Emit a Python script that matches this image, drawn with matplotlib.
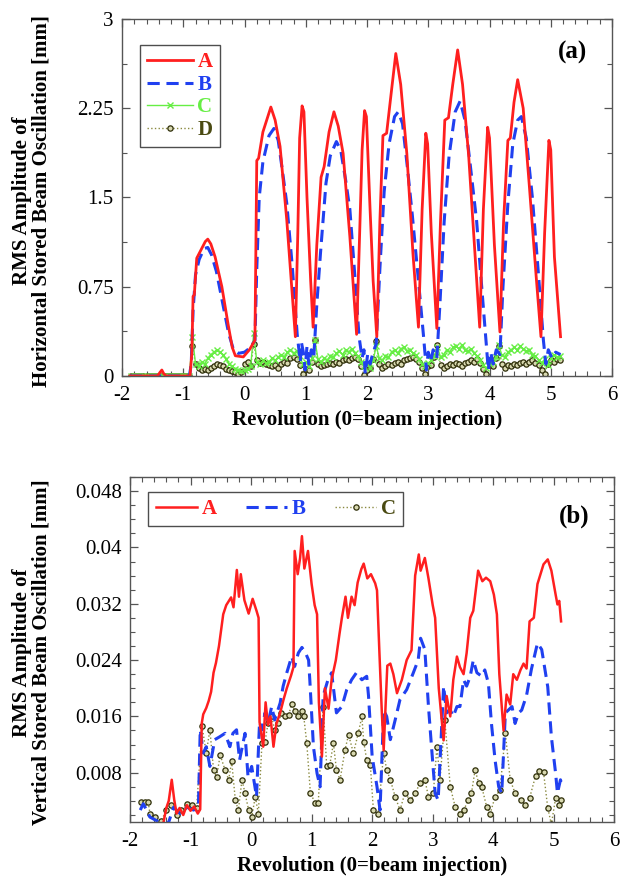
import numpy as np
import matplotlib
matplotlib.use("Agg")
import matplotlib.pyplot as plt
from matplotlib.ticker import MultipleLocator

plt.rcParams['font.family'] = ['Liberation Serif', 'DejaVu Serif']
plt.rcParams['axes.unicode_minus'] = False

# ---------------- horizontal (a) ----------------
ha_x = [-1.87, -1.42, -1.38, -1.35, -1.32, -1.28, -0.89, -0.86, -0.84, -0.82,
        -0.78, -0.72, -0.64, -0.60, -0.55, -0.48, -0.37, -0.27, -0.20, -0.15,
        -0.02, 0.08, 0.17, 0.20, 0.23, 0.30, 0.43, 0.50, 0.58, 0.69,
        0.77, 0.83, 0.87, 0.90, 0.94, 0.97, 1.02, 1.08, 1.12, 1.18,
        1.25, 1.30, 1.38, 1.46, 1.53, 1.61, 1.72, 1.83, 1.88, 1.92,
        1.96, 1.99, 2.05, 2.10, 2.16, 2.21, 2.26, 2.32, 2.40, 2.47,
        2.55, 2.65, 2.75, 2.84, 2.90, 2.96, 2.99, 3.05, 3.14, 3.20,
        3.27, 3.33, 3.40, 3.48, 3.56, 3.66, 3.76, 3.84, 3.90, 3.97,
        4.00, 4.08, 4.17, 4.23, 4.30, 4.34, 4.40, 4.46, 4.55, 4.65,
        4.76, 4.84, 4.90, 4.97, 5.00, 5.06, 5.16]
ha_y = [0.0, 0.0, 0.03, 0.05, 0.02, 0.0, 0.0, 0.19, 0.67, 0.68,
        0.99, 1.05, 1.13, 1.15, 1.11, 1.00, 0.75, 0.44, 0.24, 0.17,
        0.16, 0.22, 0.30, 1.81, 1.83, 2.05, 2.26, 2.15, 1.93, 1.31,
        0.75, 0.33, 1.20, 2.00, 2.27, 2.22, 1.50, 0.80, 0.41, 1.10,
        1.67, 1.76, 2.05, 2.22, 2.10, 1.87, 1.17, 0.35, 1.20, 1.90,
        2.23, 2.18, 1.40, 0.80, 0.33, 1.30, 2.02, 2.04, 2.40, 2.71,
        2.45, 1.87, 1.03, 0.41, 1.40, 2.04, 1.95, 1.20, 0.40, 1.30,
        2.15, 2.17, 2.45, 2.74, 2.45, 1.85, 1.05, 0.41, 1.40, 2.09,
        2.00, 1.10, 0.37, 1.30, 1.98, 2.00, 2.30, 2.49, 2.25, 1.60,
        0.85, 0.33, 1.20, 1.98, 1.90, 1.00, 0.33]

hb_x = [-1.87, -0.90, -0.87, -0.84, -0.80, -0.74, -0.66, -0.60, -0.54, -0.46,
        -0.36, -0.26, -0.18, -0.10, 0.00, 0.10, 0.17, 0.20, 0.24, 0.30,
        0.40, 0.48, 0.55, 0.62, 0.69, 0.78, 0.86, 0.91, 0.93, 0.96,
        0.99, 1.02, 1.05, 1.09, 1.13, 1.18, 1.24, 1.33, 1.40, 1.50,
        1.57, 1.65, 1.72, 1.80, 1.87, 1.92, 1.95, 1.97, 2.01, 2.05,
        2.10, 2.15, 2.21, 2.28, 2.36, 2.45, 2.51, 2.58, 2.66, 2.74,
        2.84, 2.92, 2.97, 3.00, 3.04, 3.08, 3.14, 3.19, 3.26, 3.34,
        3.44, 3.52, 3.60, 3.68, 3.79, 3.88, 3.95, 3.98, 4.02, 4.06,
        4.11, 4.17, 4.22, 4.30, 4.38, 4.46, 4.52, 4.60, 4.70, 4.80,
        4.88, 4.92, 4.96, 5.02, 5.08, 5.16]
hb_y = [0.0, 0.0, 0.10, 0.55, 0.85, 0.98, 1.07, 1.08, 1.02, 0.88,
        0.62, 0.36, 0.22, 0.19, 0.20, 0.24, 0.30, 0.90, 1.50, 1.80,
        2.02, 2.08, 1.98, 1.72, 1.45, 0.92, 0.35, 0.12, 0.28, 0.20,
        0.05, 0.25, 0.10, 0.22, 0.15, 0.60, 1.03, 1.62, 1.85, 1.97,
        1.90, 1.65, 1.40, 0.85, 0.33, 0.15, 0.22, 0.02, 0.18, 0.10,
        0.20, 0.27, 0.90, 1.55, 1.95, 2.18, 2.22, 2.12, 1.75, 1.35,
        0.80, 0.35, 0.05, 0.20, 0.12, 0.22, 0.15, 0.60, 1.30, 1.85,
        2.22, 2.31, 2.15, 1.80, 1.30, 0.70, 0.25, 0.05, 0.20, 0.10,
        0.22, 0.18, 0.75, 1.45, 1.95, 2.15, 2.18, 2.00, 1.50, 0.85,
        0.30, 0.10, 0.22, 0.15, 0.20, 0.18]

# C and D sampled every 0.05 rev starting at -1.85
hc_y = [0.0] * 20 + [
    0.33, 0.10, 0.08, 0.12, 0.10, 0.15, 0.18, 0.20, 0.22, 0.20,
    0.18, 0.14, 0.10, 0.08, 0.06, 0.05, 0.04, 0.05,
    0.06, 0.08, 0.36, 0.12, 0.10, 0.13, 0.11, 0.12, 0.15, 0.13,
    0.16, 0.18, 0.16, 0.20, 0.22, 0.19, 0.21, 0.17, 0.10, 0.12,
    0.08, 0.15, 0.30, 0.14, 0.12, 0.15, 0.13, 0.17, 0.16, 0.19,
    0.21, 0.18, 0.22, 0.20, 0.23, 0.19, 0.17, 0.12, 0.08, 0.10,
    0.07, 0.13, 0.25, 0.15, 0.13, 0.17, 0.16, 0.20, 0.22, 0.19,
    0.23, 0.24, 0.21, 0.22, 0.19, 0.18, 0.14, 0.10, 0.08, 0.11,
    0.13, 0.17, 0.24, 0.16, 0.18, 0.22, 0.20, 0.24, 0.25, 0.23,
    0.26, 0.22, 0.21, 0.23, 0.19, 0.17, 0.13, 0.09, 0.07, 0.10,
    0.12, 0.16, 0.26, 0.18, 0.16, 0.20, 0.22, 0.24, 0.22, 0.25,
    0.23, 0.21, 0.22, 0.18, 0.17, 0.13, 0.11, 0.14, 0.09, 0.15,
    0.18, 0.16, 0.17]
hd_y = [0.0] * 20 + [
    0.25, 0.10, 0.07, 0.05, 0.06, 0.05, 0.07, 0.08, 0.10, 0.09,
    0.08, 0.06, 0.05, 0.04, 0.03, 0.02, 0.03, 0.10,
    0.12, 0.08, 0.27, 0.13, 0.11, 0.12, 0.10, 0.09, 0.08, 0.09,
    0.07, 0.10, 0.12, 0.11, 0.15, 0.16, 0.14, 0.09, 0.02, 0.06,
    0.05, 0.12, 0.30, 0.10, 0.08, 0.09, 0.10, 0.11, 0.10, 0.12,
    0.11, 0.13, 0.14, 0.13, 0.15, 0.16, 0.14, 0.08, 0.01, 0.05,
    0.07, 0.14, 0.29, 0.10, 0.07, 0.08, 0.10, 0.09, 0.11, 0.12,
    0.10, 0.13, 0.14, 0.15, 0.16, 0.14, 0.12, 0.07, 0.02, 0.08,
    0.09, 0.16, 0.26, 0.09, 0.07, 0.08, 0.10, 0.09, 0.11, 0.10,
    0.08, 0.11, 0.12, 0.13, 0.12, 0.14, 0.11, 0.06, 0.02, 0.09,
    0.08, 0.15, 0.25, 0.10, 0.07, 0.09, 0.08, 0.10, 0.09, 0.11,
    0.12, 0.10, 0.12, 0.13, 0.11, 0.09, 0.05, 0.02, 0.10, 0.13,
    0.12, 0.14, 0.13]
hc_x = np.round(-1.85 + 0.05 * np.arange(len(hc_y)), 2)
hd_x = np.round(-1.85 + 0.05 * np.arange(len(hd_y)), 2)

# ---------------- vertical (b) ----------------
va_x = [-1.45, -1.40, -1.36, -1.31, -1.27, -1.23, -1.18, -1.12, -1.06, -1.00,
        -0.94, -0.88, -0.84, -0.815, -0.79, -0.74, -0.70, -0.66, -0.62, -0.58,
        -0.53, -0.46, -0.41, -0.33, -0.29, -0.235, -0.20, -0.17, -0.11, -0.04,
        0.026, 0.09, 0.124, 0.14, 0.20, 0.24, 0.28, 0.32, 0.37, 0.42,
        0.48, 0.54, 0.59, 0.66, 0.70, 0.72, 0.77, 0.81, 0.84, 0.88,
        0.94, 1.00, 1.05, 1.09, 1.12, 1.17, 1.22, 1.28, 1.33, 1.40,
        1.46, 1.50, 1.56, 1.60, 1.66, 1.71, 1.76, 1.82, 1.86, 1.92,
        1.98, 2.05, 2.08, 2.12, 2.16, 2.19, 2.25, 2.30, 2.35, 2.41,
        2.49, 2.57, 2.65, 2.71, 2.77, 2.80, 2.87, 2.93, 3.00, 3.04,
        3.10, 3.18, 3.23, 3.29, 3.34, 3.40, 3.45, 3.51, 3.56, 3.62,
        3.67, 3.75, 3.82, 3.88, 3.95, 4.01, 4.06, 4.10, 4.17, 4.22,
        4.28, 4.33, 4.39, 4.45, 4.50, 4.55, 4.60, 4.67, 4.73, 4.83,
        4.90, 4.96, 5.03, 5.06, 5.09, 5.12]
va_y = [0.0008, 0.0030, 0.0040, 0.0070, 0.0042, 0.0022, 0.0030, 0.0020, 0.0034, 0.0026,
        0.0032, 0.0022, 0.0028, 0.0150, 0.0163, 0.0172, 0.0182, 0.0195, 0.0222, 0.0236,
        0.0260, 0.0305, 0.0318, 0.0329, 0.0315, 0.0368, 0.0330, 0.0362, 0.0325, 0.0306,
        0.0327, 0.0310, 0.0300, 0.0152, 0.0117, 0.0180, 0.0148, 0.0160, 0.0117, 0.0150,
        0.0165, 0.0185, 0.0200, 0.0218, 0.0230, 0.0395, 0.0362, 0.0385, 0.0416, 0.0370,
        0.0395, 0.0348, 0.0318, 0.0305, 0.0180, 0.0103, 0.0200, 0.0171, 0.0212, 0.0240,
        0.0277, 0.0300, 0.0330, 0.0300, 0.0330, 0.0318, 0.0350, 0.0369, 0.0377, 0.0356,
        0.0362, 0.0349, 0.0339, 0.0250, 0.0165, 0.0112, 0.0232, 0.0235, 0.0220, 0.0193,
        0.0212, 0.0240, 0.0254, 0.0360, 0.0390, 0.0367, 0.0385, 0.0356, 0.0318, 0.0300,
        0.0200, 0.0126, 0.0189, 0.0160, 0.0212, 0.0245, 0.0230, 0.0220, 0.0250, 0.0300,
        0.0310, 0.0367, 0.0352, 0.0357, 0.0352, 0.0333, 0.0305, 0.0220, 0.0140, 0.0191,
        0.0177, 0.0220, 0.0212, 0.0226, 0.0235, 0.0228, 0.0295, 0.0300, 0.0348, 0.0376,
        0.0383, 0.0367, 0.0333, 0.0319, 0.0324, 0.0295]

vb_x = [-1.83, -1.78, -1.67, -1.56, -1.45, -1.36, -1.28, -1.17, -1.06, -0.95,
        -0.87, -0.84, -0.79, -0.74, -0.68, -0.60, -0.52, -0.43, -0.35, -0.30,
        -0.24, -0.19, -0.10, -0.05, 0.01, 0.09, 0.14, 0.18, 0.23, 0.28,
        0.34, 0.39, 0.48, 0.53, 0.59, 0.67, 0.72, 0.78, 0.84, 0.90,
        0.95, 0.97, 1.03, 1.09, 1.14, 1.19, 1.27, 1.33, 1.41, 1.50,
        1.58, 1.66, 1.74, 1.83, 1.91, 1.94, 2.00, 2.08, 2.13, 2.19,
        2.24, 2.30, 2.38, 2.46, 2.57, 2.68, 2.76, 2.80, 2.87, 2.93,
        2.98, 3.04, 3.09, 3.18, 3.23, 3.29, 3.34, 3.40, 3.45, 3.51,
        3.56, 3.62, 3.67, 3.73, 3.81, 3.86, 3.92, 3.97, 4.03, 4.09,
        4.14, 4.20, 4.25, 4.31, 4.36, 4.42, 4.47, 4.55, 4.63, 4.73,
        4.80, 4.90, 4.96, 5.03, 5.06, 5.11, 5.14]
vb_y = [0.0027, 0.0036, 0.0017, 0.0012, 0.0005, 0.0010, 0.0031, 0.0022, 0.0031, 0.0027,
        0.0031, 0.0141, 0.0108, 0.0117, 0.0089, 0.0127, 0.0131, 0.0136, 0.0117, 0.0136,
        0.0141, 0.0098, 0.0136, 0.0074, 0.0089, 0.0046, 0.0152, 0.0141, 0.0165, 0.0150,
        0.0174, 0.0155, 0.0179, 0.0203, 0.0222, 0.0245, 0.0231, 0.0250, 0.0258, 0.0250,
        0.0240, 0.0212, 0.0117, 0.0079, 0.0060, 0.0189, 0.0212, 0.0222, 0.0165, 0.0174,
        0.0198, 0.0212, 0.0222, 0.0212, 0.0217, 0.0189, 0.0103, 0.0060, 0.0027, 0.0169,
        0.0160, 0.0127, 0.0155, 0.0184, 0.0198, 0.0222, 0.0240, 0.0271, 0.0255, 0.0174,
        0.0117, 0.0051, 0.0041, 0.0203, 0.0165, 0.0169, 0.0160, 0.0174, 0.0174, 0.0212,
        0.0203, 0.0217, 0.0240, 0.0222, 0.0217, 0.0226, 0.0207, 0.0150, 0.0098, 0.0060,
        0.0051, 0.0165, 0.0169, 0.0174, 0.0150, 0.0165, 0.0169, 0.0190, 0.0227, 0.0264,
        0.0255, 0.0202, 0.0131, 0.0079, 0.0051, 0.0070, 0.0061]

vc_x = [-1.81, -1.76, -1.70, -1.67, -1.59, -1.48, -1.40, -1.32, -1.23, -1.15,
        -1.06, -0.98, -0.90, -0.81, -0.74, -0.68, -0.62, -0.57, -0.51, -0.43,
        -0.37, -0.32, -0.26, -0.21, -0.15, -0.10, -0.04, 0.01, 0.07, 0.12,
        0.18, 0.23, 0.28, 0.34, 0.39, 0.45, 0.50, 0.56, 0.62, 0.67,
        0.73, 0.78, 0.84, 0.87, 0.92, 0.98, 1.06, 1.11, 1.19, 1.25,
        1.30, 1.36, 1.41, 1.47, 1.55, 1.61, 1.69, 1.77, 1.83, 1.86,
        1.91, 1.97, 2.02, 2.10, 2.19, 2.24, 2.30, 2.38, 2.46, 2.54,
        2.63, 2.71, 2.79, 2.87, 2.93, 3.01, 3.07, 3.12, 3.20, 3.29,
        3.37, 3.45, 3.51, 3.59, 3.64, 3.70, 3.76, 3.81, 3.89, 3.95,
        4.03, 4.11, 4.20, 4.28, 4.36, 4.45, 4.53, 4.60, 4.70, 4.76,
        4.83, 4.90, 4.96, 5.03, 5.09, 5.12]
vc_y = [0.0039, 0.0039, 0.0039, 0.0022, 0.0017, 0.0012, 0.0027, 0.0034, 0.0020, 0.0027,
        0.0036, 0.0034, 0.0030, 0.0146, 0.0108, 0.0141, 0.0084, 0.0074, 0.0105, 0.0084,
        0.0070, 0.0096, 0.0041, 0.0027, 0.0070, 0.0051, 0.0027, 0.0017, 0.0046, 0.0022,
        0.0122, 0.0124, 0.0150, 0.0160, 0.0141, 0.0150, 0.0165, 0.0160, 0.0162, 0.0177,
        0.0167, 0.0160, 0.0167, 0.0160, 0.0122, 0.0051, 0.0037, 0.0037, 0.0174, 0.0089,
        0.0091, 0.0122, 0.0084, 0.0070, 0.0112, 0.0134, 0.0108, 0.0136, 0.0160, 0.0124,
        0.0098, 0.0091, 0.0027, 0.0022, 0.0108, 0.0084, 0.0070, 0.0046, 0.0027, 0.0051,
        0.0041, 0.0051, 0.0065, 0.0070, 0.0046, 0.0051, 0.0117, 0.0070, 0.0155, 0.0060,
        0.0032, 0.0022, 0.0027, 0.0041, 0.0051, 0.0084, 0.0065, 0.0060, 0.0032, 0.0022,
        0.0046, 0.0055, 0.0136, 0.0070, 0.0051, 0.0041, 0.0034, 0.0044, 0.0076, 0.0083,
        0.0081, 0.0030, 0.0007, 0.0044, 0.0034, 0.0041]

RED = '#ff1f1f'
BLUE = '#2040f0'
GREEN = '#66ee44'
OLIVE = '#4a4a12'

fig = plt.figure(figsize=(6.21, 8.84), dpi=100)
ax1 = fig.add_axes([0.1965, 0.5747, 0.789, 0.4038])
ax2 = fig.add_axes([0.2093, 0.0701, 0.780, 0.3903])

dash = (4.0, 2.2)
marker_d = dict(marker='o', markersize=3.8, markerfacecolor='#d8d8b0',
                markeredgecolor='#2e2e08', markeredgewidth=0.9)

ax1.plot(hd_x, hd_y, ls=':', color='#8a8a40', lw=1.0, label='D', **marker_d)
ax1.plot(hc_x, hc_y, ls='-', color=GREEN, lw=1.0, marker='x', markersize=4.5,
         markeredgewidth=1.0, label='C')
ax1.plot(hb_x, hb_y, ls=(0, dash), color=BLUE, lw=2.2, label='B')
ax1.plot(ha_x, ha_y, ls='-', color=RED, lw=2.0, label='A')

ax2.plot(vc_x, vc_y, ls=':', color='#8a8a40', lw=1.0, label='C', **marker_d)
ax2.plot(vb_x, vb_y, ls=(0, dash), color=BLUE, lw=2.2, label='B')
ax2.plot(va_x, va_y, ls='-', color=RED, lw=1.8, label='A')

for ax in (ax1, ax2):
    ax.set_xlim(-2, 6)
    ax.xaxis.set_major_locator(MultipleLocator(1))
    ax.xaxis.set_minor_locator(MultipleLocator(0.2))
    ax.tick_params(which='both', direction='in', top=True, right=True,
                   labelsize=15, color='#555555')
    ax.tick_params(which='major', length=6, width=0.9)
    ax.tick_params(which='minor', length=3.5, width=0.8)
    ax.tick_params(axis='x', pad=7)
    ax.tick_params(axis='y', pad=6)
    for s in ax.spines.values():
        s.set_color('#555555')
        s.set_linewidth(1.0)
    ax.set_xlabel('Revolution (0=beam injection)', fontsize=15,
                  fontweight='bold', labelpad=4)

ax1.set_ylim(0, 3)
ax1.set_yticks([0, 0.75, 1.5, 2.25, 3])
ax1.set_yticklabels(['0', '0.75', '1.5', '2.25', '3'])
ax1.yaxis.set_minor_locator(MultipleLocator(0.375))

ax2.set_ylim(0.001, 0.05)
ax2.set_yticks([0.008, 0.016, 0.024, 0.032, 0.04, 0.048])
ax2.set_yticklabels(['0.008', '0.016', '0.024', '0.032', '0.04', '0.048'])
ax2.yaxis.set_minor_locator(MultipleLocator(0.002))

fig.text(0.051, 0.773, 'RMS Amplitude of\nHorizontal Stored Beam Oscillation [mm]',
         rotation=90, ha='center', va='center', multialignment='center',
         fontsize=15, fontweight='bold', linespacing=0.95)
fig.text(0.051, 0.262, 'RMS Amplitude of\nVertical Stored Beam Oscillation [mm]',
         rotation=90, ha='center', va='center', multialignment='center',
         fontsize=15, fontweight='bold', linespacing=0.95)

ax1.text(0.92, 0.905, '(a)', transform=ax1.transAxes, ha='center', va='center',
         fontsize=18, fontweight='bold')
ax2.text(0.917, 0.885, '(b)', transform=ax2.transAxes, ha='center', va='center',
         fontsize=18, fontweight='bold')

h1, l1 = ax1.get_legend_handles_labels()
order1 = [3, 2, 1, 0]
leg1 = ax1.legend([h1[i] for i in order1], [l1[i] for i in order1],
                  loc='upper left', bbox_to_anchor=(0.037, 0.927),
                  borderaxespad=0, frameon=True, fancybox=False,
                  edgecolor='#222222', handlelength=2.2, handletextpad=0.2,
                  labelspacing=0.12, borderpad=0.35,
                  prop={'weight': 'bold', 'size': 15})
leg1.get_frame().set_linewidth(1.0)
for t, c in zip(leg1.get_texts(), [RED, BLUE, GREEN, OLIVE]):
    t.set_color(c)

h2, l2 = ax2.get_legend_handles_labels()
order2 = [2, 1, 0]
leg2 = ax2.legend([h2[i] for i in order2], [l2[i] for i in order2],
                  loc='upper left', bbox_to_anchor=(0.038, 0.957), ncol=3,
                  borderaxespad=0, frameon=True, fancybox=False,
                  edgecolor='#222222', handlelength=2.0, handletextpad=0.2,
                  columnspacing=1.4, borderpad=0.35,
                  prop={'weight': 'bold', 'size': 15})
leg2.get_frame().set_linewidth(1.0)
for t, c in zip(leg2.get_texts(), [RED, BLUE, OLIVE]):
    t.set_color(c)

fig.savefig('out.png', dpi=100)
